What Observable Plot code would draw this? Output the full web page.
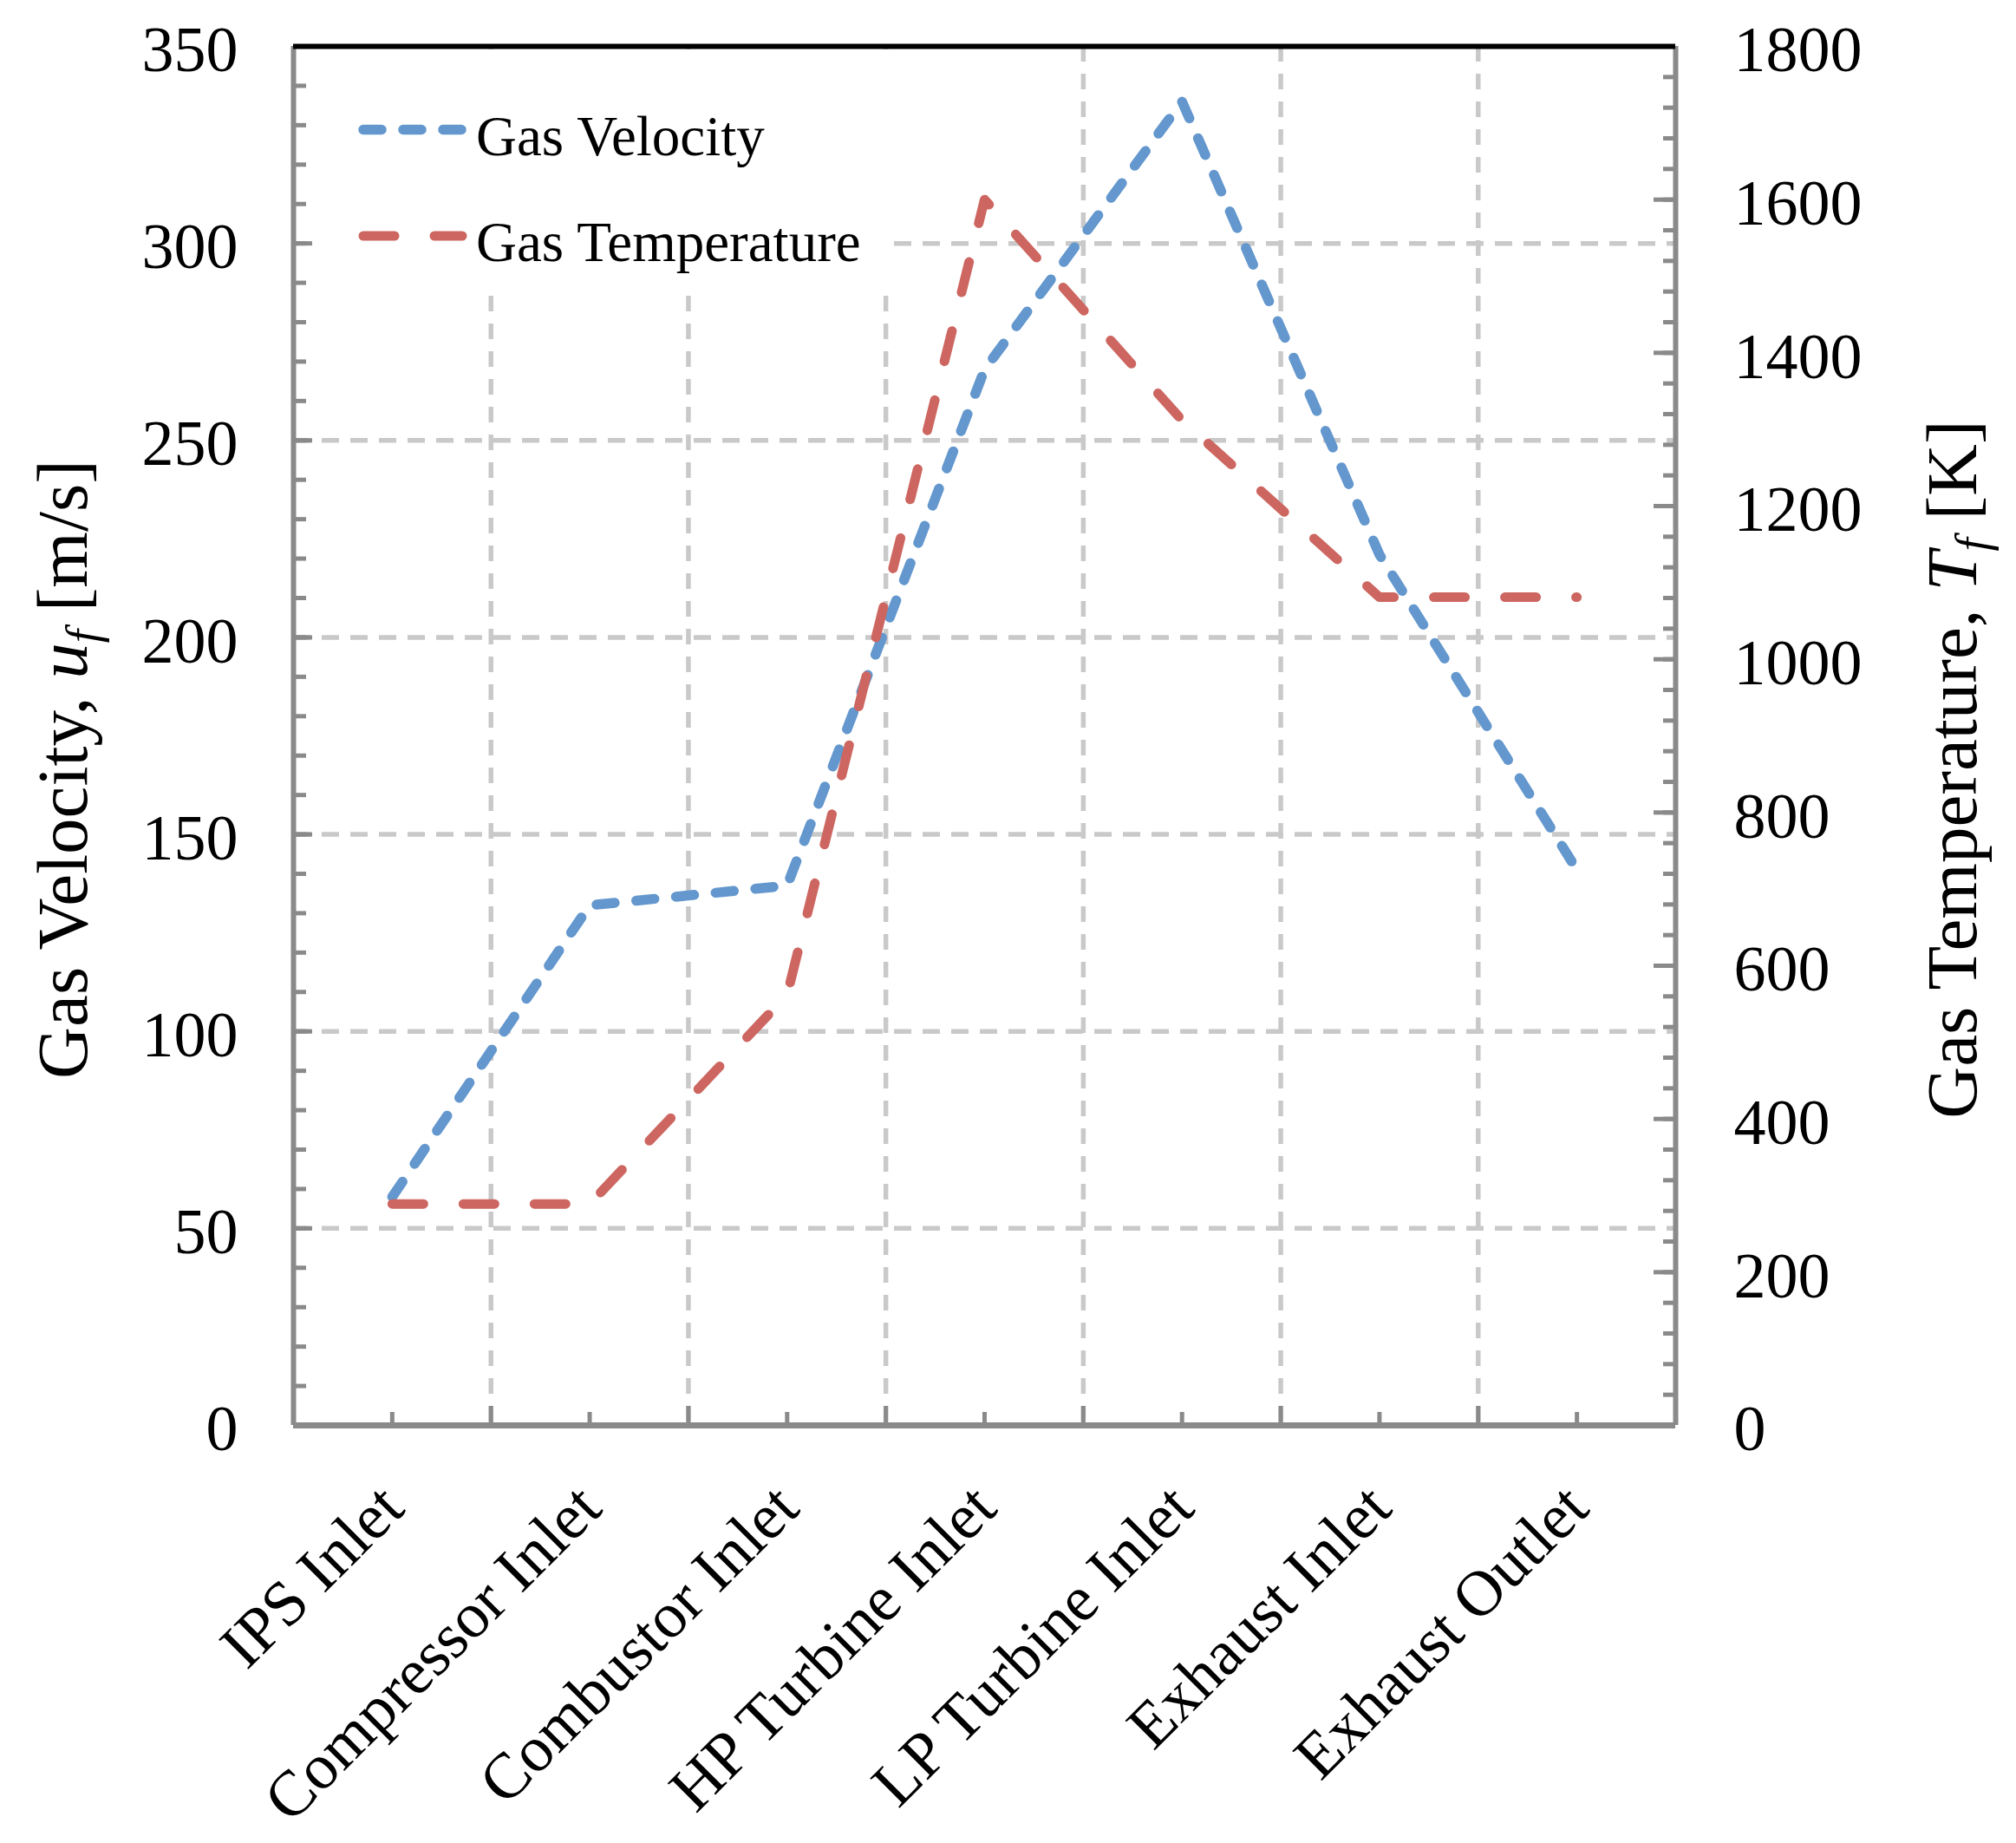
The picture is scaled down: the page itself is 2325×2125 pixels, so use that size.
<!DOCTYPE html>
<html><head><meta charset="utf-8">
<script src="https://cdn.jsdelivr.net/npm/d3@7"></script>
<script src="https://cdn.jsdelivr.net/npm/@observablehq/plot@0.6"></script>
<style>body{margin:0;background:#fff} svg{display:block}</style>
</head><body><div id="chart"></div>
<script>
const categories = ["IPS Inlet","Compressor Inlet","Combustor Inlet","HP Turbine Inlet","LP Turbine Inlet","Exhaust Inlet","Exhaust Outlet"];
const velocity = [58, 132, 137, 268, 336, 221, 141];
const temperature = [289, 289, 562, 1600, 1312, 1081, 1081];
const velocityTicks = [0, 50, 100, 150, 200, 250, 300, 350];
const temperatureTicks = [0, 200, 400, 600, 800, 1000, 1200, 1400, 1600, 1800];
const seriesNames = ["Gas Velocity", "Gas Temperature"];

const velocityMax = 350, temperatureMax = 1800;
const k = velocityMax / temperatureMax;
const rows = categories.map((c, i) => ({i, c, v: velocity[i], t: temperature[i] * k}));

const font = "'Liberation Serif','Times New Roman',serif";
const W = 2325, H = 2125;
const mL = 338, mR = 393, mT = 53, mB = 482;
const fw = W - mL - mR, fh = H - mT - mB;
const gridC = "#c9c9c9", axisC = "#8a8a8a";
const blue = "#6397cd", red = "#cd6660";
const blueDash = "21,25", redDash = "36,46";
const n = categories.length;

const legendMark = () => {
  const g = d3.create("svg:g");
  g.append("rect").attr("x", mL + 4).attr("y", mT + 4).attr("width", 1025 - mL - 4).attr("height", 332 - mT - 4).attr("fill", "white");
  return g.node();
};

const chart = Plot.plot({
  width: W, height: H,
  marginLeft: mL, marginRight: mR, marginTop: mT, marginBottom: mB,
  style: {fontFamily: font, background: "white", color: "black", overflow: "visible"},
  x: {domain: [-0.5, n - 0.5], axis: null},
  y: {domain: [0, velocityMax], axis: null},
  marks: [
    Plot.ruleX(d3.range(0.5, n - 1, 1), {stroke: gridC, strokeWidth: 5.5, strokeDasharray: "18,14"}),
    Plot.ruleY(velocityTicks.slice(1, -1), {stroke: gridC, strokeWidth: 5.5, strokeDasharray: "20,13"}),
    legendMark,
    // ticks (inward)
    Plot.tickY(d3.range(0, velocityMax + 1, 10), {y: d => d, stroke: axisC, strokeWidth: 5, insetRight: fw - 15}),
    Plot.tickY(velocityTicks, {y: d => d, stroke: axisC, strokeWidth: 5, insetRight: fw - 22}),
    Plot.tickY(d3.range(0, temperatureMax + 1, 40), {y: d => d * k, stroke: axisC, strokeWidth: 5, insetLeft: fw - 14}),
    Plot.tickY(temperatureTicks, {y: d => d * k, stroke: axisC, strokeWidth: 5, insetLeft: fw - 25}),
    Plot.tickX(d3.range(0, n, 1), {x: d => d, stroke: axisC, strokeWidth: 5, insetTop: fh - 15}),
    Plot.tickX(d3.range(0.5, n - 1, 1), {x: d => d, stroke: axisC, strokeWidth: 5, insetTop: fh - 22}),
    // frame
    Plot.ruleX([-0.5], {stroke: axisC, strokeWidth: 6}),
    Plot.ruleX([n - 0.5], {stroke: axisC, strokeWidth: 6}),
    Plot.ruleY([0], {stroke: axisC, strokeWidth: 7}),
    Plot.ruleY([velocityMax], {stroke: "black", strokeWidth: 6}),
    // series
    Plot.line(rows, {x: "i", y: "v", stroke: blue, strokeWidth: 11.5, strokeDasharray: blueDash, strokeLinecap: "round", strokeLinejoin: "round"}),
    Plot.line(rows, {x: "i", y: "t", stroke: red, strokeWidth: 11, strokeDasharray: redDash, strokeLinecap: "round", strokeLinejoin: "round"}),
    // tick labels
    Plot.text(velocityTicks, {y: d => d, text: d => String(d), frameAnchor: "left", dx: -64, dy: 5, textAnchor: "end", fontSize: 74, fill: "black"}),
    Plot.text(temperatureTicks, {y: d => d * k, text: d => String(d), frameAnchor: "right", dx: 67, dy: 5, textAnchor: "start", fontSize: 74, fill: "black"}),
    Plot.text(rows, {x: "i", text: "c", frameAnchor: "bottom", dy: 82, rotate: -45, textAnchor: "end", lineAnchor: "middle", fontSize: 74, fill: "black"})
  ]
});

document.getElementById("chart").appendChild(chart);
const svg = d3.select(chart);

// legend
const lg = svg.append("g").attr("font-family", font).attr("font-size", 65).attr("fill", "black").attr("text-anchor", "start");
lg.append("line").attr("x1", 419).attr("x2", 533).attr("y1", 149.5).attr("y2", 149.5)
  .attr("stroke", blue).attr("stroke-width", 11.5).attr("stroke-dasharray", blueDash).attr("stroke-linecap", "round");
lg.append("line").attr("x1", 419).attr("x2", 533).attr("y1", 272).attr("y2", 272)
  .attr("stroke", red).attr("stroke-width", 11).attr("stroke-dasharray", redDash).attr("stroke-linecap", "round");
lg.append("text").attr("x", 549).attr("y", 178.6).attr("text-anchor", "start").text(seriesNames[0]);
lg.append("text").attr("x", 549).attr("y", 301).attr("text-anchor", "start").text(seriesNames[1]);

// axis titles
function title(x, y, parts) {
  const t = svg.append("text").attr("transform", `translate(${x},${y}) rotate(-90)`)
    .attr("text-anchor", "middle").attr("font-family", font).attr("font-size", 83).attr("fill", "black").attr("dy", "0.35em");
  t.append("tspan").text(parts[0]);
  t.append("tspan").attr("font-style", "italic").text(parts[1]);
  t.append("tspan").attr("font-style", "italic").attr("font-size", 55).attr("dy", 14).text(parts[2]);
  t.append("tspan").attr("dy", -14).text(parts[3]);
}
title(71, 887, ["Gas Velocity, ", "u", "f", " [m/s]"]);
title(2250, 887, ["Gas Temperature, ", "T", "f", " [K]"]);
</script>
</body></html>
